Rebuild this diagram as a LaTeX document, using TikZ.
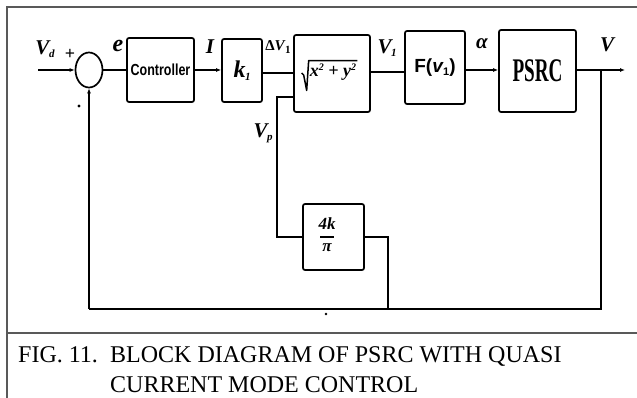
\documentclass[tikz,border=0pt]{standalone}
\usepackage{fontspec}
\setmainfont{Liberation Serif}
\newfontfamily\lsans{Liberation Sans}
\usetikzlibrary{arrows.meta,shapes.geometric}
\newcommand{\fsz}[1]{\fontsize{#1}{#1}\selectfont}
\newcommand{\mysub}[1]{\kern-0.5pt\raisebox{-3pt}{\fsz{11}#1}}
\newcommand{\mysup}[1]{\raisebox{6pt}{\fsz{10}#1}}
\begin{document}
\begin{tikzpicture}[x=1pt,y=-1pt,
  blk/.style={draw,line width=1.7pt,rounded corners=2pt,inner sep=0pt},
  sig/.style={line width=1.8pt},
  fb/.style={line width=1.4pt},
  tip/.style={-{Latex[length=5pt,width=4pt]}},
  lab/.style={inner sep=0pt,font=\fsz{21}\bfseries\itshape},
  frame/.style={draw=black!65,line width=1.3pt}]
\useasboundingbox (0,0) rectangle (637,398);
\fill[white] (0,0) rectangle (637,398);
% frame and caption divider
\draw[frame] (7,398) -- (7,7) -- (637,7);
\draw[frame] (7,333) -- (637,333);
% blocks
\node[draw,ellipse,line width=1.7pt,minimum width=27pt,minimum height=35pt,inner sep=0pt] (sum) at (89,70) {};
\node[blk,minimum width=67pt,minimum height=64pt] (ctrl) at (160.5,70) {\scalebox{0.78}[1]{\lsans\fsz{16}\bfseries Controller}};
\node[blk,minimum width=40pt,minimum height=63pt] (k1) at (242,70.5) {\raisebox{-5pt}{\fsz{24}\bfseries\itshape k\mysub{1}}};
\node[blk,minimum width=76pt,minimum height=77pt] (sq) at (332,73.5) {};
\node[inner sep=0pt,font=\fsz{18}\bfseries\itshape] (sqt) at (333,72) {x\mysup{2} + y\mysup{2}};
\draw[line width=1.5pt,line join=round] ([xshift=-8pt,yshift=-1pt]sqt.west) -- ([xshift=-6pt,yshift=-3pt]sqt.west) -- ([xshift=-3pt,yshift=-10pt]sqt.south west) -- ([xshift=-1pt,yshift=3pt]sqt.north west) -- ([xshift=1pt,yshift=3pt]sqt.north east);
\node[blk,minimum width=60pt,minimum height=73pt] (F) at (435,67.5) {\lsans\fsz{19}\bfseries F(\textit{v}\mysub{1})};
\node[blk,minimum width=77pt,minimum height=82pt] (psrc) at (537.5,71) {\scalebox{0.58}[1]{\fsz{33}\bfseries PSRC}};
\node[blk,minimum width=61pt,minimum height=66pt] (gain) at (333.5,237) {};
\node[inner sep=0pt,font=\fsz{17}\bfseries\itshape] (gnum) at (327,224) {4k};
\node[inner sep=0pt,font=\fsz{17}\bfseries\itshape] (gden) at (327,248) {π};
\draw[line width=1.6pt] (320,237) -- (334,237);
% coordinates
\coordinate (in) at (38,70);
\coordinate (y70) at (0,70);
\coordinate (y72) at (0,72);
\coordinate (y73) at (0,73);
\coordinate (out) at (625,70);
\coordinate (tap) at (601,70);
\coordinate (fbR) at (601,309);
\coordinate (fbM) at (388,309);
\coordinate (fbL) at (89,309);
\coordinate (vptop) at (277,97);
% forward path
\draw[sig,tip] (in) -- (sum.west);
\draw[sig] (sum.east) -- (ctrl.west |- sum.east);
\draw[sig,tip] (ctrl.east |- y70) -- (k1.west |- y70);
\draw[sig] (k1.east |- y73) -- (sq.west |- y73);
\draw[sig] (sq.east |- y72) -- (F.west |- y72);
\draw[sig,tip] (F.east |- y70) -- (psrc.west |- y70);
\draw[sig,tip] (psrc.east |- y70) -- (out);
% inner loop
\draw[fb] (gain.west) -| (vptop) -- (vptop -| sq.west);
\draw[fb] (gain.east) -| (fbM);
% outer feedback
\draw[fb] (tap) -- (fbR) -- (fbL);
\draw[fb,tip] (fbL) -- (sum.south);
% labels
\node[lab] (lvd) at (45,49) {V\mysub{d}};
\node[inner sep=0pt,font=\fsz{18}\bfseries] (lplus) at (70,54) {+};
\fill (79,106) circle (1.7pt);
\node[lab,font=\fsz{24}\bfseries\itshape] (le) at (118,46) {e};
\node[lab] (li) at (210,47) {I};
\node[inner sep=0pt,font=\fsz{15}\bfseries] (ldv) at (278,47) {Δ\textit{V}\mysub{1}};
\node[lab] (lv1) at (387,48) {V\mysub{1}};
\node[lab] (la) at (482,44) {α};
\node[lab] (lv) at (607,45) {V};
\node[lab] (lvp) at (263,133) {V\mysub{p}};
\fill (326,314) circle (1.3pt);
% caption
\node[anchor=base west,inner sep=0pt,font=\fsz{24}] (c0) at (18,362) {FIG. 11.};
\node[anchor=base west,inner sep=0pt,font=\fsz{24}] (c1) at (110,362) {BLOCK DIAGRAM OF PSRC WITH QUASI};
\node[anchor=base west,inner sep=0pt,font=\fsz{24}] (c2) at (110,392) {CURRENT MODE CONTROL};
\end{tikzpicture}
\end{document}
